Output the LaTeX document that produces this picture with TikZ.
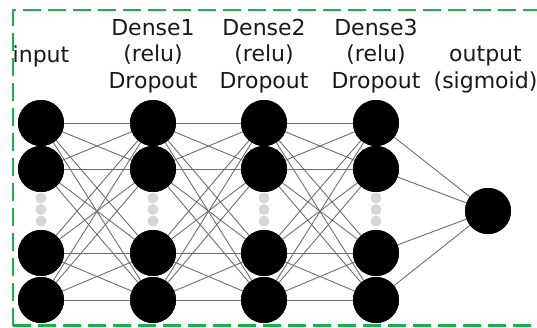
\documentclass[tikz,border=0pt]{standalone}
\usepackage{fontspec}
\setmainfont{DejaVu Sans}
\definecolor{frameGreen}{RGB}{30,175,75}
\definecolor{edgeGray}{RGB}{110,110,110}
\definecolor{dotGray}{RGB}{215,215,215}
\definecolor{txt}{RGB}{25,25,25}
\begin{document}
\begin{tikzpicture}[x=1pt,y=-1pt,
  neuron/.style={circle,fill=black,draw=none,minimum size=46pt,inner sep=0pt},
  dotn/.style={circle,fill=dotGray,draw=none,minimum size=11pt,inner sep=0pt},
  conn/.style={draw=edgeGray,line width=0.9pt},
  lbl/.style={font=\fontsize{22}{26.5}\selectfont,text=txt,align=center,inner sep=0pt,anchor=base},
  frame/.style={draw=frameGreen,line width=2.6pt,dash pattern=on 18pt off 7pt}]
\useasboundingbox (0,0) rectangle (537,327);
\draw[frame] (13,325.5) -- (13,10) -- (545,10);
\draw[frame] (13,325.5) -- (545,325.5);
% neurons
\foreach \c/\x in {1/41,2/153,3/264,4/376}{
  \foreach \r/\y in {1/123,2/169,3/253,4/300}{
    \node[neuron] (n\c\r) at (\x,\y) {};
  }
  \foreach \d/\y in {1/198,2/209.5,3/221}{
    \node[dotn] (d\c\d) at (\x,\y) {};
  }
}
\node[neuron] (out) at (488,211) {};
% connections
\foreach \c/\nc in {1/2,2/3,3/4}{
  \foreach \a in {1,2,3,4}{
    \foreach \b in {1,2,3,4}{
      \draw[conn] (n\c\a.center) -- (n\nc\b.center);
    }
  }
}
\foreach \a in {1,2,3,4}{
  \draw[conn] (n4\a.center) -- (out.center);
}
% redraw neurons on top of connections
\foreach \c/\x in {1/41,2/153,3/264,4/376}{
  \foreach \r/\y in {1/123,2/169,3/253,4/300}{
    \fill (\x,\y) circle (23pt);
  }
}
\fill (488,211) circle (23pt);
% labels
\node[lbl] (linput) at (41,62) {input};
\node[lbl] (ld1) at (153,88) {Dense1\\(relu)\\Dropout};
\node[lbl] (ld2) at (264,88) {Dense2\\(relu)\\Dropout};
\node[lbl] (ld3) at (376,88) {Dense3\\(relu)\\Dropout};
\node[lbl] (lout) at (485.5,88) {output\\(sigmoid)};
\end{tikzpicture}
\end{document}
